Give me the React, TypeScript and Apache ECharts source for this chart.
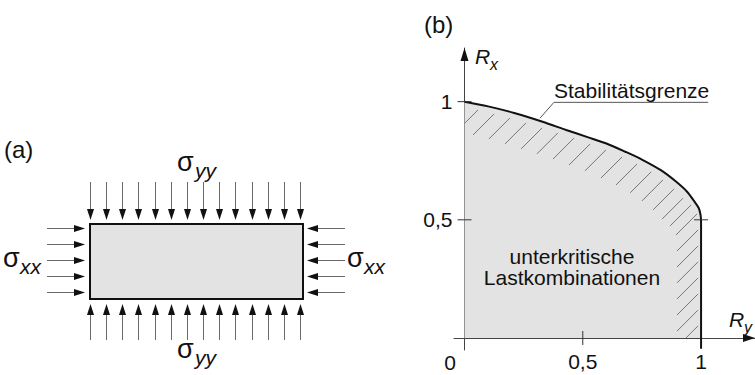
import React, { useEffect, useRef } from "react";
import * as echarts from "echarts";

// Boundary curve (Stabilitätsgrenze): R_y (horizontal) and R_x (vertical)
const curveRy = [0, 0.1, 0.21, 0.33, 0.43, 0.52, 0.6, 0.68, 0.75, 0.83, 0.89, 0.94, 0.97, 0.99, 0.998, 1, 1, 1];
const curveRx = [1, 0.98, 0.952, 0.915, 0.88, 0.85, 0.823, 0.788, 0.755, 0.71, 0.665, 0.62, 0.58, 0.55, 0.52, 0.49, 0, -0.045];

// Upper ends of the hatch strokes along the boundary
const hatchRy = [0.057, 0.125, 0.192, 0.26, 0.328, 0.395, 0.463, 0.531, 0.598, 0.666, 0.729, 0.789, 0.839, 0.886, 0.924, 0.958, 0.983, 0.987, 0.987, 0.987, 0.987, 0.987, 0.987, 0.987];
const hatchRx = [0.965, 0.948, 0.931, 0.91, 0.889, 0.868, 0.846, 0.821, 0.796, 0.766, 0.736, 0.703, 0.669, 0.631, 0.592, 0.563, 0.525, 0.457, 0.389, 0.322, 0.254, 0.186, 0.118, 0.051];

// Tick marks: [Ry, Rx, 0 = horizontal stroke / 1 = vertical stroke]
const tickMarks = [[0, 1, 0], [0, 0.5, 0], [0.5, 0, 1], [1, 0.5, 0]];
const xLabelValues = [0.5, 1];
const yLabelValues = [0.5, 1];

// Axis extents (arrow tips at the max ends)
const X_MIN = -0.0444;
const X_MAX = 1.228;
const Y_MIN = -0.0508;
const Y_MAX = 1.227;

// Leader line from the boundary to the label
const leaderRy = [0.319, 0.378, 1.03];
const leaderRx = [0.93, 0.997, 0.997];

const FONT = "Liberation Sans";

function buildLeftPanel(): any[] {
  const els: any[] = [];
  const shaft = "#6a6a6a";
  const head = "#111";
  for (let i = 0; i < 14; i++) {
    const x = Math.round(90 + (i * 210) / 13) + 0.5;
    els.push({ type: "line", shape: { x1: x, y1: 182, x2: x, y2: 210 }, style: { stroke: shaft, lineWidth: 1 } });
    els.push({ type: "polygon", shape: { points: [[x - 3.5, 209], [x + 3.5, 209], [x, 220]] }, style: { fill: head } });
    els.push({ type: "line", shape: { x1: x, y1: 313, x2: x, y2: 340 }, style: { stroke: shaft, lineWidth: 1 } });
    els.push({ type: "polygon", shape: { points: [[x - 3.5, 315], [x + 3.5, 315], [x, 304]] }, style: { fill: head } });
  }
  for (let i = 0; i < 5; i++) {
    const y = 228.5 + i * 16;
    els.push({ type: "line", shape: { x1: 47, y1: y, x2: 75, y2: y }, style: { stroke: shaft, lineWidth: 1 } });
    els.push({ type: "polygon", shape: { points: [[74, y - 3.5], [74, y + 3.5], [85, y]] }, style: { fill: head } });
    els.push({ type: "line", shape: { x1: 317, y1: y, x2: 345, y2: y }, style: { stroke: shaft, lineWidth: 1 } });
    els.push({ type: "polygon", shape: { points: [[318, y - 3.5], [318, y + 3.5], [307, y]] }, style: { fill: head } });
  }
  els.push({
    type: "rect",
    shape: { x: 90, y: 224, width: 213, height: 75 },
    style: { fill: "#e3e3e3", stroke: "#111", lineWidth: 2 },
  });
  return els;
}

function txt(text: string, x: number, y: number, size: number, opts: any = {}) {
  const align = opts.align || "left";
  return {
    type: "text",
    x,
    y,
    z: 50,
    style: {
      text,
      fontSize: size,
      fontFamily: FONT,
      fontStyle: opts.italic ? "italic" : "normal",
      fill: "#111",
      align,
      textAlign: align,
      verticalAlign: "middle",
      textVerticalAlign: "middle",
    },
  };
}

export default function App() {
  const ref = useRef<HTMLDivElement>(null);
  useEffect(() => {
    if (!ref.current) return;
    const chart = echarts.init(ref.current, null, { renderer: "svg" });

    const curve = curveRy.map((v, i) => [v, curveRx[i]]);
    const hatch = hatchRy.map((v, i) => [v, hatchRx[i]]);
    const leader = leaderRy.map((v, i) => [v, leaderRx[i]]);

    const texts = [
      txt("(a)", 4, 149, 24),
      txt("(b)", 424, 24, 24),
      txt("σ", 177, 162, 27),
      txt("yy", 195, 170, 21, { italic: true }),
      txt("σ", 177, 349, 27),
      txt("yy", 195, 357, 21, { italic: true }),
      txt("σ", 3, 258, 27),
      txt("xx", 20, 266, 21, { italic: true }),
      txt("σ", 347, 258, 27),
      txt("xx", 364, 266, 21, { italic: true }),
      txt("R", 475, 56, 21, { italic: true }),
      txt("x", 490, 64, 16, { italic: true }),
      txt("R", 729, 319, 21, { italic: true }),
      txt("y", 744, 327, 16, { italic: true }),
      txt("0", 450, 362, 21, { align: "center" }),
      txt("Stabilitätsgrenze", 554, 90, 21),
      txt("unterkritische", 572, 256, 21, { align: "center" }),
      txt("Lastkombinationen", 572, 277, 21, { align: "center" }),
    ];

    const fmt = (v: number) => String(v).replace(".", ",");

    const axisCommon = {
      type: "value",
      splitLine: { show: false },
      axisTick: { show: false },
      axisLine: { onZero: true, lineStyle: { color: "#444", width: 1 } },
    };

    chart.setOption({
      animation: false,
      backgroundColor: "#fff",
      grid: { left: 454, right: 0, top: 48, bottom: 25, containLabel: false, outerBoundsMode: "none" },
      xAxis: {
        ...axisCommon,
        min: X_MIN,
        max: X_MAX,
        axisLabel: {
          customValues: xLabelValues,
          formatter: fmt,
          fontSize: 21,
          fontFamily: FONT,
          color: "#111",
          margin: 1,
        },
      },
      yAxis: {
        ...axisCommon,
        min: Y_MIN,
        max: Y_MAX,
        axisLabel: { show: false },
      },
      series: [
        {
          type: "line",
          name: "Stabilitätsgrenze",
          data: curve,
          smooth: 0.3,
          showSymbol: false,
          clip: false,
          lineStyle: { color: "#111", width: 2 },
          areaStyle: { color: "#e3e3e3", opacity: 1 },
          z: 1,
        },
        {
          type: "custom",
          name: "hatch",
          data: hatch,
          clip: false,
          z: 3,
          renderItem: (params: any, api: any) => {
            const p = api.coord([api.value(0), api.value(1)]);
            const o = api.coord([0, 0]);
            const t = Math.max(0, Math.min(21, p[0] - o[0], o[1] - p[1]));
            return {
              type: "line",
              shape: { x1: p[0], y1: p[1], x2: p[0] - t, y2: p[1] + t },
              style: { stroke: "#777", lineWidth: 1 },
            };
          },
        },
        {
          type: "custom",
          name: "ticks",
          data: tickMarks,
          clip: false,
          z: 4,
          encode: { x: 0, y: 1 },
          renderItem: (params: any, api: any) => {
            const p = api.coord([api.value(0), api.value(1)]);
            const h = 7;
            const shape =
              api.value(2) === 0
                ? { x1: p[0] - h, y1: p[1], x2: p[0] + h, y2: p[1] }
                : { x1: p[0], y1: p[1] - h, x2: p[0], y2: p[1] + h };
            return { type: "line", shape, style: { stroke: "#333", lineWidth: 1 } };
          },
        },
        {
          type: "custom",
          name: "yLabels",
          data: yLabelValues.map((v) => [0, v]),
          clip: false,
          z: 6,
          encode: { x: 0, y: 1 },
          renderItem: (params: any, api: any) => {
            const p = api.coord([api.value(0), api.value(1)]);
            return {
              type: "text",
              x: p[0] - 12,
              y: p[1],
              style: {
                text: fmt(api.value(1)),
                fontSize: 21,
                fontFamily: FONT,
                fill: "#111",
                align: "right",
                textAlign: "right",
                verticalAlign: "middle",
                textVerticalAlign: "middle",
              },
            };
          },
        },
        {
          type: "custom",
          name: "axisArrows",
          data: [[X_MAX, 0, 0], [0, Y_MAX, 1]],
          clip: false,
          z: 5,
          encode: { x: 0, y: 1 },
          renderItem: (params: any, api: any) => {
            const p = api.coord([api.value(0), api.value(1)]);
            const pts =
              api.value(2) === 0
                ? [[p[0], p[1]], [p[0] - 12, p[1] - 4], [p[0] - 12, p[1] + 4]]
                : [[p[0], p[1]], [p[0] - 4, p[1] + 13], [p[0] + 4, p[1] + 13]];
            return { type: "polygon", shape: { points: pts }, style: { fill: "#111" } };
          },
        },
        {
          type: "line",
          name: "leader",
          data: leader,
          showSymbol: false,
          clip: false,
          lineStyle: { color: "#555", width: 1 },
          z: 4,
        },
      ],
      graphic: [...buildLeftPanel(), ...texts],
    });
    return () => chart.dispose();
  }, []);
  return (
    <div
      ref={ref}
      style={{ position: "absolute", left: 0, top: 0, width: 755, height: 375 }}
    />
  );
}
